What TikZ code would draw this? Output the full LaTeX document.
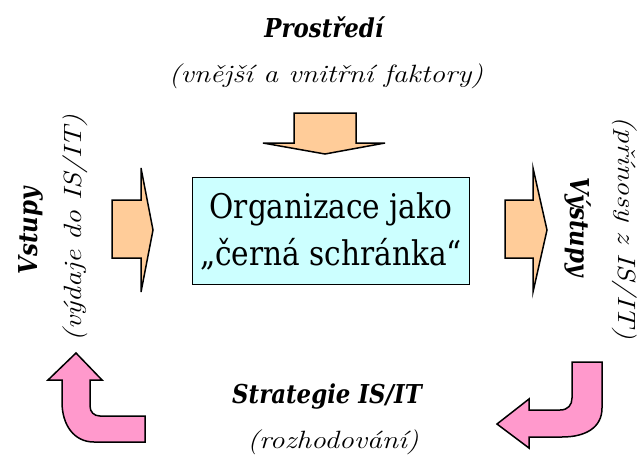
\documentclass[tikz,border=0pt]{standalone}
\usepackage{fontspec}
\setmainfont{DejaVu Serif}
\newfontfamily\boxfont{DejaVu Serif}[FakeStretch=0.87]
\newfontfamily\titlefont{DejaVu Serif}[FakeStretch=0.88]
\newfontfamily\widefont{Latin Modern Roman}[FakeStretch=1.18]
\definecolor{BoxCyan}{RGB}{204, 255, 255}
\definecolor{ArrowPeach}{RGB}{255, 204, 153}
\definecolor{ArrowPink}{RGB}{255, 153, 204}

\begin{document}
\begin{tikzpicture}[x=1pt, y=-1pt,
        orgbox/.style={draw, line width=1.5pt, fill=BoxCyan, minimum width=277pt, minimum height=107pt, align=center, font=\boxfont\fontsize{34}{47}\selectfont},
        title/.style={anchor=base, font=\titlefont\fontsize{26}{32}\selectfont\bfseries\itshape},
        note/.style={anchor=base, font=\widefont\fontsize{25}{30}\selectfont\itshape},
        flatarrow/.style={draw, line width=1.5pt, fill=ArrowPeach},
        bentarrow/.style={draw, line width=1.5pt, fill=ArrowPink}]

        \useasboundingbox (0,0) rectangle (640,455);

        % Organisation
        \node[orgbox] (org) at (331,231) {Organizace jako\\„černá schránka“};

        % Environment
        \node[title] (env) at (324,37) {Prostředí};
        \node[note] (envnote) at (326,82) {(vnější a vnitřní faktory)};
        \draw[flatarrow] (294,113) -- (356,113) -- (356,143) -- (385,143) -- (325,154) -- (263,143) -- (294,143) -- cycle;

        % Inputs
        \node[title, rotate=90] (in) at (37,231) {Vstupy};
        \node[note, rotate=90] (innote) at (81,228) {(výdaje do IS/IT)};
        \draw[flatarrow] (112,200) -- (141,200) -- (141,168) -- (153,230) -- (141,292) -- (141,258) -- (112,258) -- cycle;

        % Outputs
        \node[title, rotate=-90] (out) at (570,227) {Výstupy};
        \node[note, rotate=-90] (outnote) at (618,228) {(přínosy z IS/IT)};
        \draw[flatarrow] (505,200) -- (533,200) -- (533,168) -- (547,230) -- (533,292) -- (533,258) -- (505,258) -- cycle;

        % Strategy
        \node[title] (strat) at (327,403) {Strategie IS/IT};
        \node[note] (stratnote) at (333,448) {(rozhodování)};
        \draw[bentarrow] (572,362) -- (602,362) -- (602,408) .. controls (602,428) and (585,437) .. (562,437) -- (529,437) -- (529,448) -- (497,424) -- (529,399) -- (529,410) -- (560,410) .. controls (568,410) and (572,405) .. (572,398) -- cycle;
        \draw[bentarrow] (76,353) -- (102,380) -- (90,380) -- (90,406) .. controls (90,412) and (94,416) .. (100,416) -- (145,416) -- (145,442) -- (94,442) .. controls (74,442) and (62,425) .. (62,402) -- (62,380) -- (48,380) -- cycle;

    \end{tikzpicture}
\end{document}
